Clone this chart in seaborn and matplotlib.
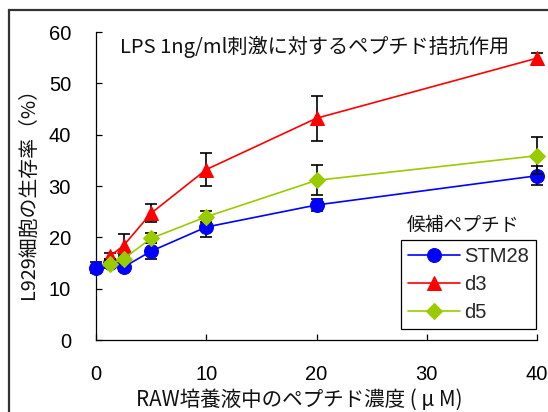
import matplotlib
matplotlib.use("Agg")
import matplotlib.pyplot as plt
import seaborn as sns
import numpy as np
import pandas as pd
from matplotlib.patches import Rectangle

# ---- data ----
conc = [0, 1.25, 2.5, 5, 10, 20, 40]
stm28 = [14.1, 15.0, 14.2, 17.3, 22.0, 26.3, 32.0]
stm28_err = [1.0, 0.8, 0.7, 1.5, 2.0, 1.1, 1.9]
d3_conc = [1.25, 2.5, 5, 10, 20, 40]
d3 = [16.3, 18.4, 24.7, 33.2, 43.2, 54.9]
d3_err = [0.6, 2.3, 1.8, 3.2, 4.4, 1.1]
d5_conc = [1.25, 2.5, 5, 10, 20, 40]
d5 = [14.8, 15.8, 19.8, 24.0, 31.1, 35.9]
d5_err = [0.8, 0.7, 1.0, 1.1, 2.9, 3.6]
series_names = ["STM28", "d3", "d5"]
colors = ["#0000FF", "#FF0000", "#99CC00"]
markers = ["o", "^", "D"]
markersizes = [10, 10, 8.5]

title_text = "LPS 1ng/ml刺激に対するペプチド拮抗作用"
legend_title = "候補ペプチド"
ylabel_text = "L929細胞の生存率（%）"
xlabel_text = "RAW培養液中のペプチド濃度 ( μ M)"
xticks = [0, 10, 20, 30, 40]
yticks = [0, 10, 20, 30, 40, 50, 60]

sns.set_theme(style="ticks")
plt.rcParams['font.family'] = ['Liberation Sans', 'DejaVu Sans']
CJK = ['Noto Sans CJK JP', 'DejaVu Sans']

W, H = 548, 412
fig = plt.figure(figsize=(W / 100, H / 100), dpi=100)
fig.patch.set_facecolor("white")
ax = fig.add_axes([96 / W, 1 - 340 / H, (537 - 96) / W, (340 - 32) / H])
ax.set_facecolor("white")

# outer frame (cropped)
fig.patches.append(Rectangle((8.5 / W, -0.2), 1.5, 1 - 9.7 / H + 0.2,
                             transform=fig.transFigure, fill=False,
                             edgecolor="#333333", linewidth=1.6, zorder=0))

xs = [conc, d3_conc, d5_conc]
ys = [stm28, d3, d5]
errs = [stm28_err, d3_err, d5_err]
for i, name in enumerate(series_names):
    df = pd.DataFrame({"x": xs[i], "y": ys[i]})
    ax.errorbar(df["x"], df["y"], yerr=errs[i], fmt="none", ecolor="black",
                elinewidth=1.2, capsize=4.5, capthick=1.2, zorder=2 + i, clip_on=False)
    sns.lineplot(data=df, x="x", y="y", ax=ax, color=colors[i], marker=markers[i],
                 markersize=markersizes[i], markeredgecolor=colors[i], linewidth=1.2,
                 label=name, zorder=3 + i, clip_on=False, errorbar=None)

ax.set_xlim(0, 40)
ax.set_ylim(0, 60)
ax.set_xticks(xticks)
ax.set_yticks(yticks)
ax.set_xlabel("")
ax.set_ylabel("")
for s in ["top", "right"]:
    ax.spines[s].set_visible(False)
for s in ["left", "bottom"]:
    ax.spines[s].set_color("black")
    ax.spines[s].set_linewidth(0.9)
ax.tick_params(direction="in", length=4.5, width=0.9, colors="black",
               labelsize=14.5, pad=18)

fig.text(120.5 / W, 1 - 47 / H, title_text, family=CJK, fontsize=14.5,
         ha="left", va="center", color="#111111")
fig.text(28 / W, 1 - 188.5 / H, ylabel_text, family=CJK, fontsize=14.3,
         rotation=90, ha="center", va="center", color="#111111")
fig.text(299 / W, 1 - 400 / H, xlabel_text, family=CJK, fontsize=14.8,
         ha="center", va="center", color="#111111")
fig.text(463 / W, 1 - 225 / H, legend_title, family=CJK, fontsize=13.5,
         ha="center", va="center", color="#111111")

leg = ax.legend(loc="upper left", bbox_to_anchor=(401 / W, 1 - 240 / H),
                bbox_transform=fig.transFigure, frameon=True, fancybox=False,
                framealpha=1, edgecolor="black", fontsize=14.5, handlelength=2.6,
                handletextpad=0.2, labelspacing=0.45, borderpad=0.35,
                borderaxespad=0)
leg.get_frame().set_linewidth(0.9)

fig.savefig("out.png", dpi=100)
